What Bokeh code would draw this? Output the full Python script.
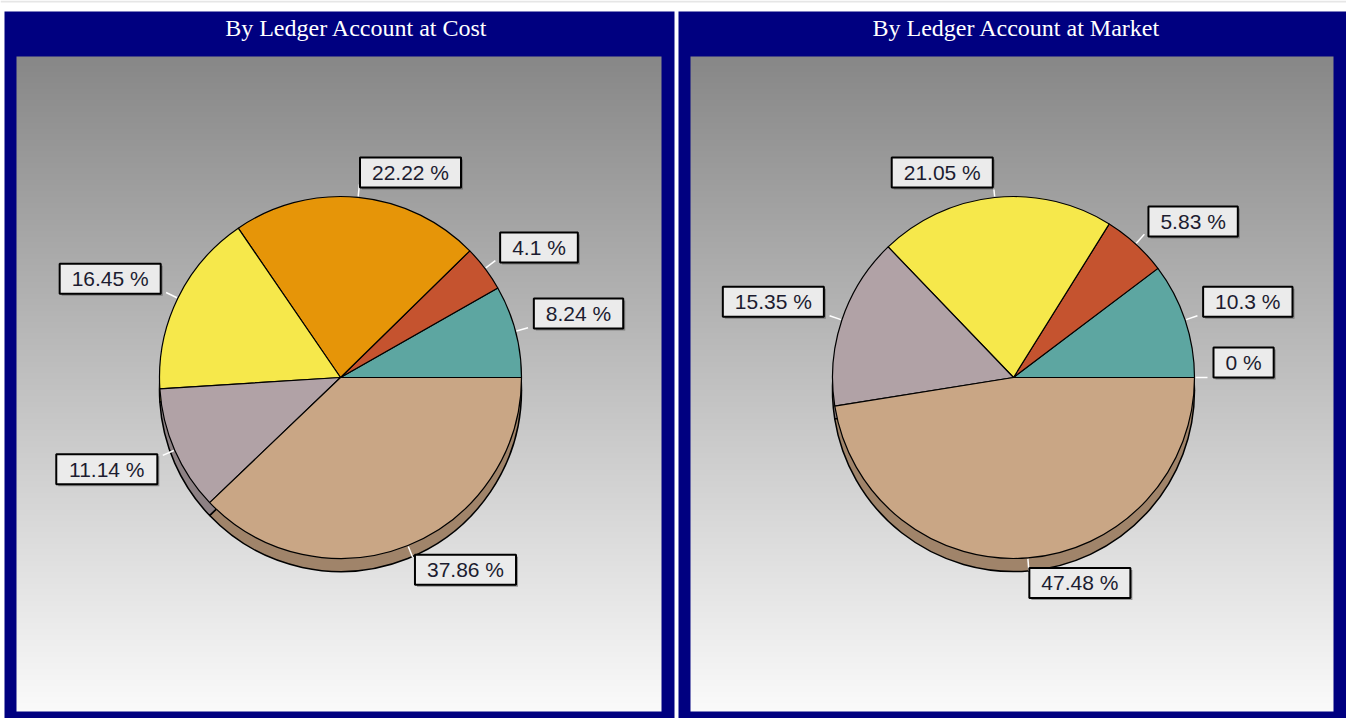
import numpy as np
from bokeh.plotting import figure
from bokeh.models import Range1d
from bokeh.core.properties import value
from bokeh.embed import file_html
from bokeh.resources import INLINE

# ---------------- data ----------------
titles = ["By Ledger Account at Cost", "By Ledger Account at Market"]

cost_values = [8.24, 4.1, 22.22, 16.45, 11.14, 37.86]
cost_colors = ["#5DA6A1", "#C5532F", "#E69508", "#F6E84B", "#B1A2A6", "#C9A685"]

market_values = [10.3, 5.83, 21.05, 15.35, 47.48, 0.0]
market_colors = ["#5DA6A1", "#C5532F", "#F6E84B", "#B1A2A6", "#C9A685", "#E69508"]

# ---------------- layout (reference pixel space) ----------------
W, H = 1346, 718
X0, Y0 = 0, 0
def fy(ry):
    return (Y0 + H) - ry

NAVY = "#000080"
panels = [
    dict(l=4, r=674, il=16, ir=661, cx=340, tx=356),
    dict(l=678, r=1346, il=690, ir=1333, cx=1013, tx=1016),
]
TOP, ITOP, IBOT = 11, 56, 711
CY = 377
R = 181
DEPTH = 13

p = figure(width=W, height=H, x_range=Range1d(X0, X0 + W), y_range=Range1d(0, H),
           output_backend="svg", toolbar_location=None, x_axis_type=None, y_axis_type=None,
           min_border=0, background_fill_color="white", border_fill_color="white")
p.outline_line_color = None
p.grid.visible = False

# thin light strip at very top
p.quad(left=0, right=W, top=fy(0), bottom=fy(2), fill_color="#E6E6E6", line_color=None)

# gradient image
nrows = IBOT - ITOP
img = np.zeros((nrows, 2), dtype=np.uint32)
v = img.view(dtype=np.uint8).reshape((nrows, 2, 4))
for i in range(nrows):
    t = i / (nrows - 1)  # row 0 is bottom
    g = int(round(250 - (250 - 135) * t))
    v[i, :, 0] = g
    v[i, :, 1] = g
    v[i, :, 2] = g
    v[i, :, 3] = 255

def darker(hexc, f=0.8):
    hexc = hexc.lstrip("#")
    r, g, b = (int(hexc[k:k + 2], 16) for k in (0, 2, 4))
    return "#%02x%02x%02x" % (int(r * f), int(g * f), int(b * f))

AW = {"0": .556, "1": .556, "2": .556, "3": .556, "4": .556, "5": .556, "6": .556,
      "7": .556, "8": .556, "9": .556, ".": .278, " ": .278, "%": .889}
FS = 21

for pan, title, vals, cols in zip(panels, titles, [cost_values, market_values],
                                  [cost_colors, market_colors]):
    # navy frame
    p.quad(left=pan["l"], right=pan["r"], top=fy(TOP), bottom=fy(H + Y0), fill_color=NAVY,
           line_color=None)
    # gradient interior
    p.image_rgba(image=[img], x=pan["il"], y=fy(IBOT), dw=pan["ir"] - pan["il"], dh=nrows)
    # title
    p.text(x=[pan["tx"]], y=[fy(27)], text=[title], text_color="white",
           text_font=value("Liberation Serif"), text_font_size="24px",
           text_align="center", text_baseline="middle")

    vals = np.array(vals, dtype=float)
    frac = vals / vals.sum()
    ends = np.cumsum(frac) * 2 * np.pi
    starts = np.concatenate([[0.0], ends[:-1]])
    cx, cy = pan["cx"], fy(CY)

    nz = vals > 0
    wc = [c for c, k in zip(cols, nz) if k]
    # shadow (depth) of pie
    p.wedge(x=cx, y=cy - DEPTH, radius=R, start_angle=starts[nz], end_angle=ends[nz],
            fill_color=[darker(c) for c in wc], line_color="black", line_width=1.5)
    # main pie
    p.wedge(x=cx, y=cy, radius=R, start_angle=starts[nz], end_angle=ends[nz],
            fill_color=wc, line_color="black", line_width=1.2)

    mids = (starts + ends) / 2
    for val, th in zip(vals, mids):
        c, s = np.cos(th), np.sin(th)
        if abs(s) < 1e-6:
            s = 0.0
        x1, y1 = cx + (R + 1) * c, cy + (R + 1) * s
        x2, y2 = cx + (R + 13) * c, cy + (R + 13) * s
        p.segment(x0=[x1], y0=[y1], x1=[x2], y1=[y2], line_color="white", line_width=1.5)
        lab = f"{val:g} %"
        tw = sum(AW[ch] for ch in lab) * FS
        bw, bh = tw + 24, 30
        ex = x2 + 6 * c
        ey = y2 - 3 * s
        if c >= 0:
            left, right = ex, ex + bw
        else:
            left, right = ex - bw, ex
        if s >= 0:
            bottom, top = ey, ey + bh
        else:
            bottom, top = ey - bh, ey
        p.quad(left=left + 2, right=right + 2, top=top - 2, bottom=bottom - 2,
               fill_color="#555555", fill_alpha=0.55, line_color=None)
        p.quad(left=left, right=right, top=top, bottom=bottom,
               fill_color="#EBEBEB", line_color="black", line_width=2)
        p.text(x=[(left + right) / 2], y=[(top + bottom) / 2], text=[lab],
               text_color="#1C1C30", text_font=value("Liberation Sans"),
               text_font_size=f"{FS}px", text_align="center", text_baseline="middle")

open("out.html", "w").write(file_html(p, INLINE))
